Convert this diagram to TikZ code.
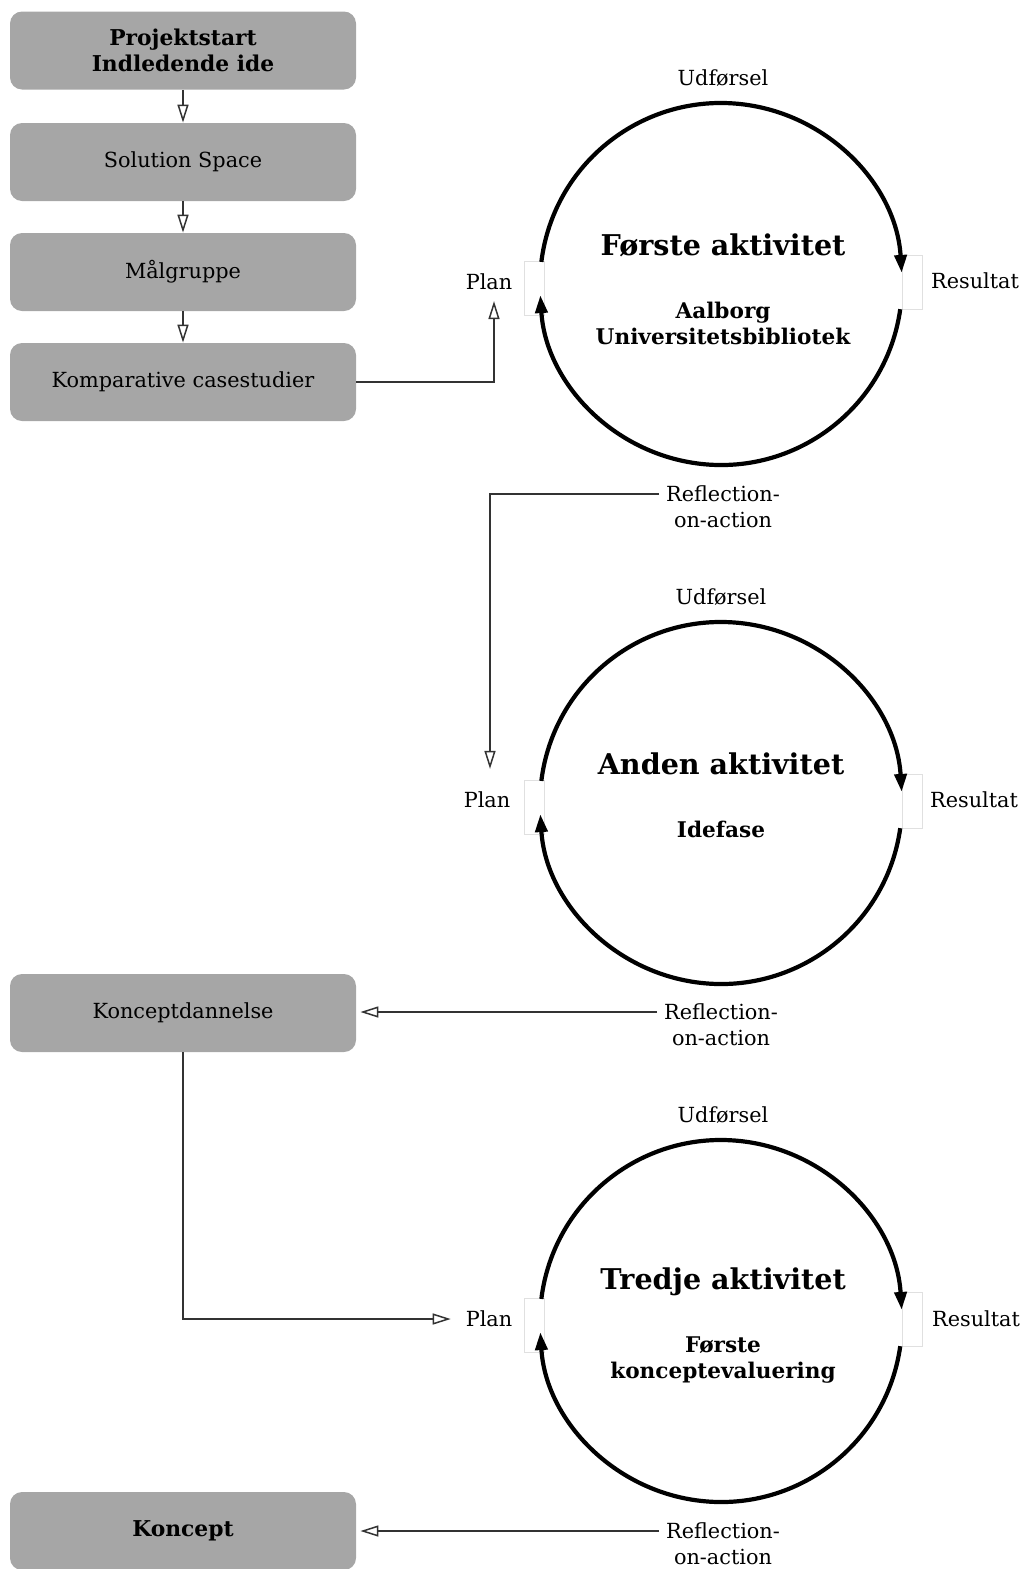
\documentclass[tikz,border=0pt]{standalone}
\usepackage{fontspec}
\setmainfont{DejaVu Serif}
\usepackage{tikz}
\usetikzlibrary{positioning, arrows.meta}
\definecolor{boxFill}{HTML}{a6a6a6}
\definecolor{lineDark}{HTML}{333333}
\definecolor{gapB}{HTML}{e0e0e0}
\begin{document}
\begin{tikzpicture}[x=0.5pt,y=-0.5pt,stage/.style={fill=boxFill, rounded corners=6pt, minimum width=173pt, minimum height=39pt, align=center, inner sep=0pt, font=\fontsize{10.4}{13}\selectfont},flow/.style={draw=lineDark, line width=0.75pt, -{Triangle[open, length=9pt, width=5.5pt]}},loop/.style={line width=2.1pt, -{Triangle[length=9pt, width=6pt]}},gap/.style={draw=gapB, line width=0.3pt, fill=white, minimum width=10pt, minimum height=27pt, inner sep=0pt},lbl/.style={align=center, font=\fontsize{10.4}{13}\selectfont},ttl/.style={font=\bfseries\fontsize{14.3}{17}\selectfont},sub/.style={align=center, font=\bfseries\fontsize{10.8}{13}\selectfont}]
\useasboundingbox (0,0) rectangle (1022,1569);
\node[stage, font=\bfseries\fontsize{10.9}{13}\selectfont] (start) at (183,50.5) {Projektstart\\Indledende ide};
\node[stage] (space) at (183,162) {Solution Space};
\node[stage] (grp) at (183,272) {Målgruppe};
\node[stage] (cases) at (183,382) {Komparative casestudier};
\node[stage] (kdan) at (183,1013) {Konceptdannelse};
\node[stage, font=\bfseries\fontsize{10.9}{13}\selectfont] (kon) at (183,1531) {Koncept};
\draw[flow] (start) -- (space); \draw[flow] (space) -- (grp); \draw[flow] (grp) -- (cases);
\coordinate (act1) at (721,284); \coordinate (act2) at (721,803); \coordinate (act3) at (721,1321);
\node[gap] (gapL1) at (534,288.5) {}; \node[gap] (gapR1) at (912,282) {};
\node[gap] (gapL2) at (534,807.5) {}; \node[gap] (gapR2) at (912,801) {};
\node[gap] (gapL3) at (534,1325.5) {}; \node[gap] (gapR3) at (912,1319) {};
\draw[loop] ([shift={(173:90.5pt)}]act1) arc[start angle=173, end angle=3.5, radius=90.5pt];
\draw[loop] ([shift={(-8:90.5pt)}]act1) arc[start angle=-8, end angle=-176.5, radius=90.5pt];
\draw[loop] ([shift={(173:90.5pt)}]act2) arc[start angle=173, end angle=3.5, radius=90.5pt];
\draw[loop] ([shift={(-8:90.5pt)}]act2) arc[start angle=-8, end angle=-176.5, radius=90.5pt];
\draw[loop] ([shift={(173:90.5pt)}]act3) arc[start angle=173, end angle=3.5, radius=90.5pt];
\draw[loop] ([shift={(-8:90.5pt)}]act3) arc[start angle=-8, end angle=-176.5, radius=90.5pt];
\node[lbl] (udf1) at (723,78) {Udførsel}; \node[lbl] (plan1) at (489,282) {Plan}; \node[lbl] (res1) at (975,281) {Resultat};
\node[ttl] (ttl1) at (723,245) {Første aktivitet}; \node[sub] (sub1) at (723,323) {Aalborg\\Universitetsbibliotek};
\node[lbl] (udf2) at (721,597) {Udførsel}; \node[lbl] (plan2) at (487,800) {Plan}; \node[lbl] (res2) at (974,800) {Resultat};
\node[ttl] (ttl2) at (721,764) {Anden aktivitet}; \node[sub] (sub2) at (721,829) {Idefase};
\node[lbl] (udf3) at (723,1115) {Udførsel}; \node[lbl] (plan3) at (489,1319) {Plan}; \node[lbl] (res3) at (976,1319) {Resultat};
\node[ttl] (ttl3) at (723,1282) {Tredje aktivitet}; \node[sub] (sub3) at (723,1360) {Første\\konceptevaluering};
\node[lbl] (refl1) at (723,507) {Reflection-\\on-action};
\node[lbl] (refl2) at (721,1025) {Reflection-\\on-action};
\node[lbl] (refl3) at (723,1544) {Reflection-\\on-action};
\draw[flow] (cases.east) -| ([xshift=2.5pt, yshift=-2pt]plan1.south);
\draw[flow] ([yshift=6.5pt]refl1.west) -| ([xshift=1.5pt, yshift=8pt]plan2.north);
\draw[flow] ([yshift=6.5pt]refl2.west) -- ([xshift=2pt, yshift=6.5pt]refl2.west -| kdan.east);
\draw[flow, shorten >=4pt] (kdan.south) |- (plan3.west);
\draw[flow] ([yshift=6.5pt]refl3.west) -- ([xshift=2pt, yshift=6.5pt]refl3.west -| kon.east);
\end{tikzpicture}
\end{document}
